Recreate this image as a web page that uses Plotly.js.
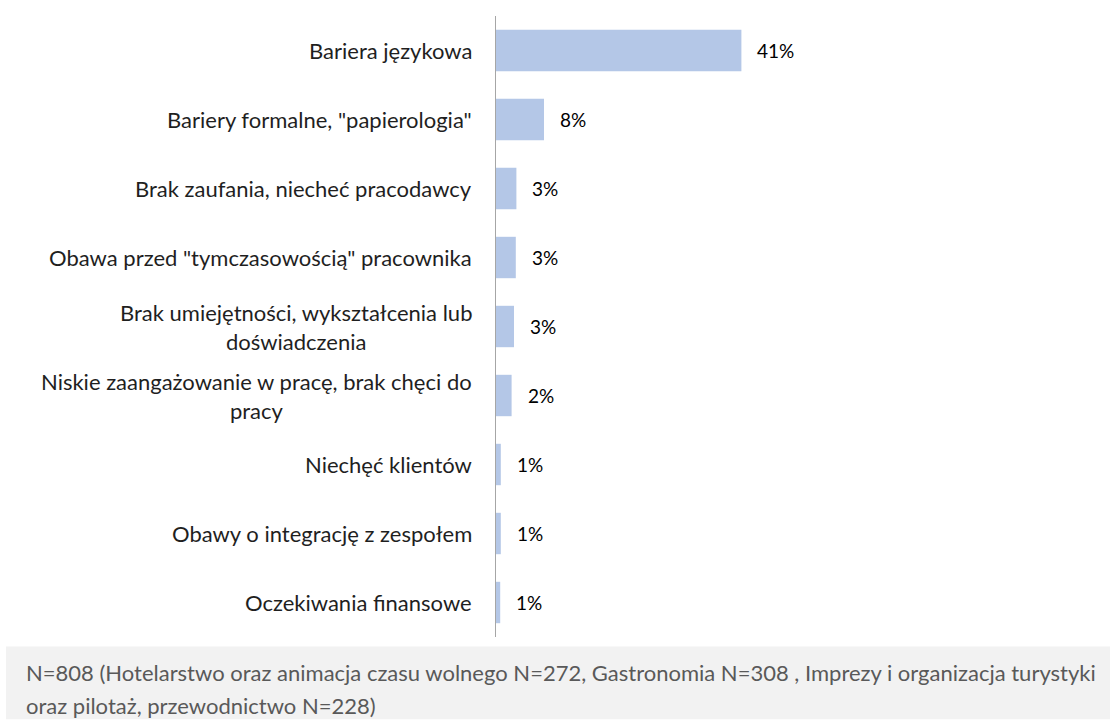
<!DOCTYPE html>
<html><head><meta charset="utf-8">
<script src="https://cdn.plot.ly/plotly-3.0.1.min.js"></script>
<style>html,body{margin:0;padding:0;background:#fff}#chart{width:1110px;height:720px}</style>
</head><body><div id="chart"></div>
<script>
const categories = [
  'Bariera językowa',
  'Bariery formalne, "papierologia"',
  'Brak zaufania, niecheć pracodawcy',
  'Obawa przed "tymczasowością" pracownika',
  'Brak umiejętności, wykształcenia lub<br>doświadczenia',
  'Niskie zaangażowanie w pracę, brak chęci do<br>pracy',
  'Niechęć klientów',
  'Obawy o integrację z zespołem',
  'Oczekiwania finansowe'
];
const values = [40.9, 8.0, 3.4, 3.3, 3.0, 2.6, 0.8, 0.8, 0.7];
const valueLabels = ['41%', '8%', '3%', '3%', '3%', '2%', '1%', '1%', '1%'];
const footnoteLines = [
  'N=808 (Hotelarstwo oraz animacja czasu wolnego N=272, Gastronomia N=308 , Imprezy i organizacja turystyki',
  'oraz pilotaż, przewodnictwo N=228)'
];

const W = 1110, H = 720;
const mL = 496, mR = 14, mT = 15.5, mB = 82.5;
const pw = W - mL - mR, ph = H - mT - mB;
const px = x => (x - mL) / pw;
const py = y => (H - mB - y) / ph;
const FONT = 'Lato, "Open Sans", sans-serif';

const annotations = [];
categories.forEach((c, i) => {
  annotations.push({
    xref: 'paper', yref: 'y', x: 0, y: c, xanchor: 'right', yanchor: 'middle',
    xshift: -22, text: c, showarrow: false, align: 'center',
    font: {family: FONT, size: 22, color: '#1f1f1f'}
  });
  annotations.push({
    xref: 'x', yref: 'y', x: values[i], y: c, xanchor: 'left', yanchor: 'middle',
    xshift: 14, text: valueLabels[i], showarrow: false,
    font: {family: FONT, size: 19, color: '#000'}
  });
});
const footY = [673, 706];
footnoteLines.forEach((t, i) => {
  annotations.push({
    xref: 'paper', yref: 'paper', x: px(24), y: py(footY[i]), xanchor: 'left', yanchor: 'middle',
    text: t, showarrow: false, align: 'left',
    font: {family: FONT, size: 22, color: '#595959'}
  });
});

const data = [{
  type: 'bar', orientation: 'h', y: categories, x: values,
  width: 0.6, marker: {color: '#b4c7e7', line: {width: 0}},
  hoverinfo: 'skip'
}];

const layout = {
  width: W, height: H,
  margin: {l: mL, r: mR, t: mT, b: mB, pad: 0},
  paper_bgcolor: '#fff', plot_bgcolor: '#fff',
  showlegend: false,
  xaxis: {range: [0, 100], visible: false, fixedrange: true},
  yaxis: {type: 'category', autorange: 'reversed', showticklabels: false, ticks: '',
          showgrid: false, zeroline: false, showline: true, linecolor: '#a6a6a6', linewidth: 1.5,
          fixedrange: true},
  shapes: [{
    type: 'rect', xref: 'paper', yref: 'paper', layer: 'below',
    x0: px(6), x1: px(1110), y0: py(647), y1: py(720),
    fillcolor: '#f2f2f2', line: {width: 0}
  }],
  annotations: annotations
};

Plotly.newPlot('chart', data, layout, {displayModeBar: false, staticPlot: true});
</script></body></html>
